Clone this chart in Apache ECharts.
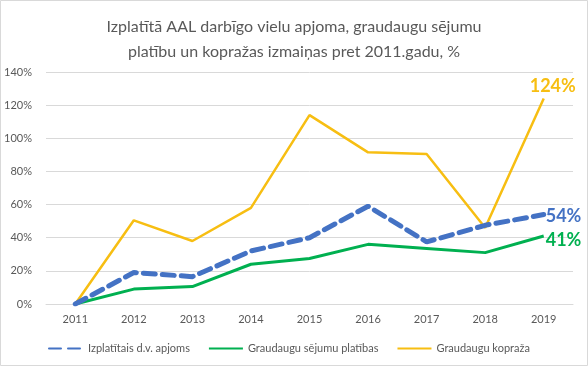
<!DOCTYPE html>
<html><head><meta charset="utf-8">
<script src="https://cdn.jsdelivr.net/npm/echarts@6/dist/echarts.min.js"></script>
<style>html,body{margin:0;padding:0;background:#fff}#c{width:588px;height:366px}</style>
</head><body><div id="c"></div>
<script>
const categories = ['2011','2012','2013','2014','2015','2016','2017','2018','2019'];
const izplatitais = [0, 19, 16.5, 32, 40, 59, 37.5, 47.5, 54];
const platibas = [0, 9, 10.5, 24, 27.5, 36, 33.5, 31, 41];
const kopraza = [0, 50.5, 38, 58, 114, 91.5, 90.5, 46, 124];
const yTicks = {min: 0, max: 140, interval: 20};
const names = ['Izplatītais d.v. apjoms', 'Graudaugu sējumu platības', 'Graudaugu kopraža'];
const colors = ['#4472C4', '#00B050', '#F7BE12'];
const font = 'Lato';

const chart = echarts.init(document.getElementById('c'), null, {renderer: 'canvas'});
chart.setOption({
  animation: false,
  backgroundColor: '#fff',
  textStyle: {fontFamily: font},
  graphic: [{type: 'rect', shape: {x: 0.5, y: 0.5, width: 587, height: 365},
    style: {fill: 'none', stroke: '#d9d9d9', lineWidth: 1}, silent: true, z: -1}],
  title: {
    text: 'Izplatītā AAL darbīgo vielu apjoma, graudaugu sējumu\nplatību un kopražas izmaiņas pret 2011.gadu, %',
    left: 'center', top: 9,
    textStyle: {fontFamily: font, fontSize: 16, fontWeight: 'normal', color: '#595959', lineHeight: 25}
  },
  legend: {
    left: 43, top: 338, itemWidth: 34, itemHeight: 10, itemGap: 18,
    itemStyle: {opacity: 0},
    textStyle: {fontFamily: font, fontSize: 11, color: '#595959'},
    data: names
  },
  grid: {left: 46, right: 15, top: 72, bottom: 62},
  xAxis: {
    type: 'category', data: categories, boundaryGap: true,
    axisLine: {lineStyle: {color: '#d9d9d9'}}, axisTick: {show: false},
    axisLabel: {color: '#595959', fontSize: 11, margin: 10}
  },
  yAxis: {
    type: 'value', min: yTicks.min, max: yTicks.max, interval: yTicks.interval,
    axisLine: {show: false}, axisTick: {show: false},
    splitLine: {lineStyle: {color: '#d9d9d9'}},
    axisLabel: {color: '#595959', fontSize: 11, formatter: '{value}%', margin: 14}
  },
  series: [
    {name: names[0], type: 'line', data: izplatitais, showSymbol: false, symbol: 'none', z: 3,
      color: colors[0],
      lineStyle: {width: 5, type: [12, 7], cap: 'round', color: colors[0]},
      endLabel: {show: true, formatter: p => Math.round(p.value) + '%', color: colors[0],
        fontSize: 18, fontWeight: 'bold', fontFamily: font, distance: 2, offset: [0, 2]}},
    {name: names[1], type: 'line', data: platibas, showSymbol: false, symbol: 'none', z: 2,
      color: colors[1],
      lineStyle: {width: 3, color: colors[1]},
      endLabel: {show: true, formatter: p => Math.round(p.value) + '%', color: colors[1],
        fontSize: 18, fontWeight: 'bold', fontFamily: font, distance: 2, offset: [0, 4]}},
    {name: names[2], type: 'line', data: kopraza, showSymbol: false, symbol: 'none', z: 1,
      color: colors[2],
      lineStyle: {width: 2.5, color: colors[2]},
      endLabel: {show: true, formatter: p => Math.round(p.value) + '%', color: colors[2],
        fontSize: 18, fontWeight: 'bold', fontFamily: font, distance: 0, offset: [-14, -12]}}
  ]
});
</script></body></html>
